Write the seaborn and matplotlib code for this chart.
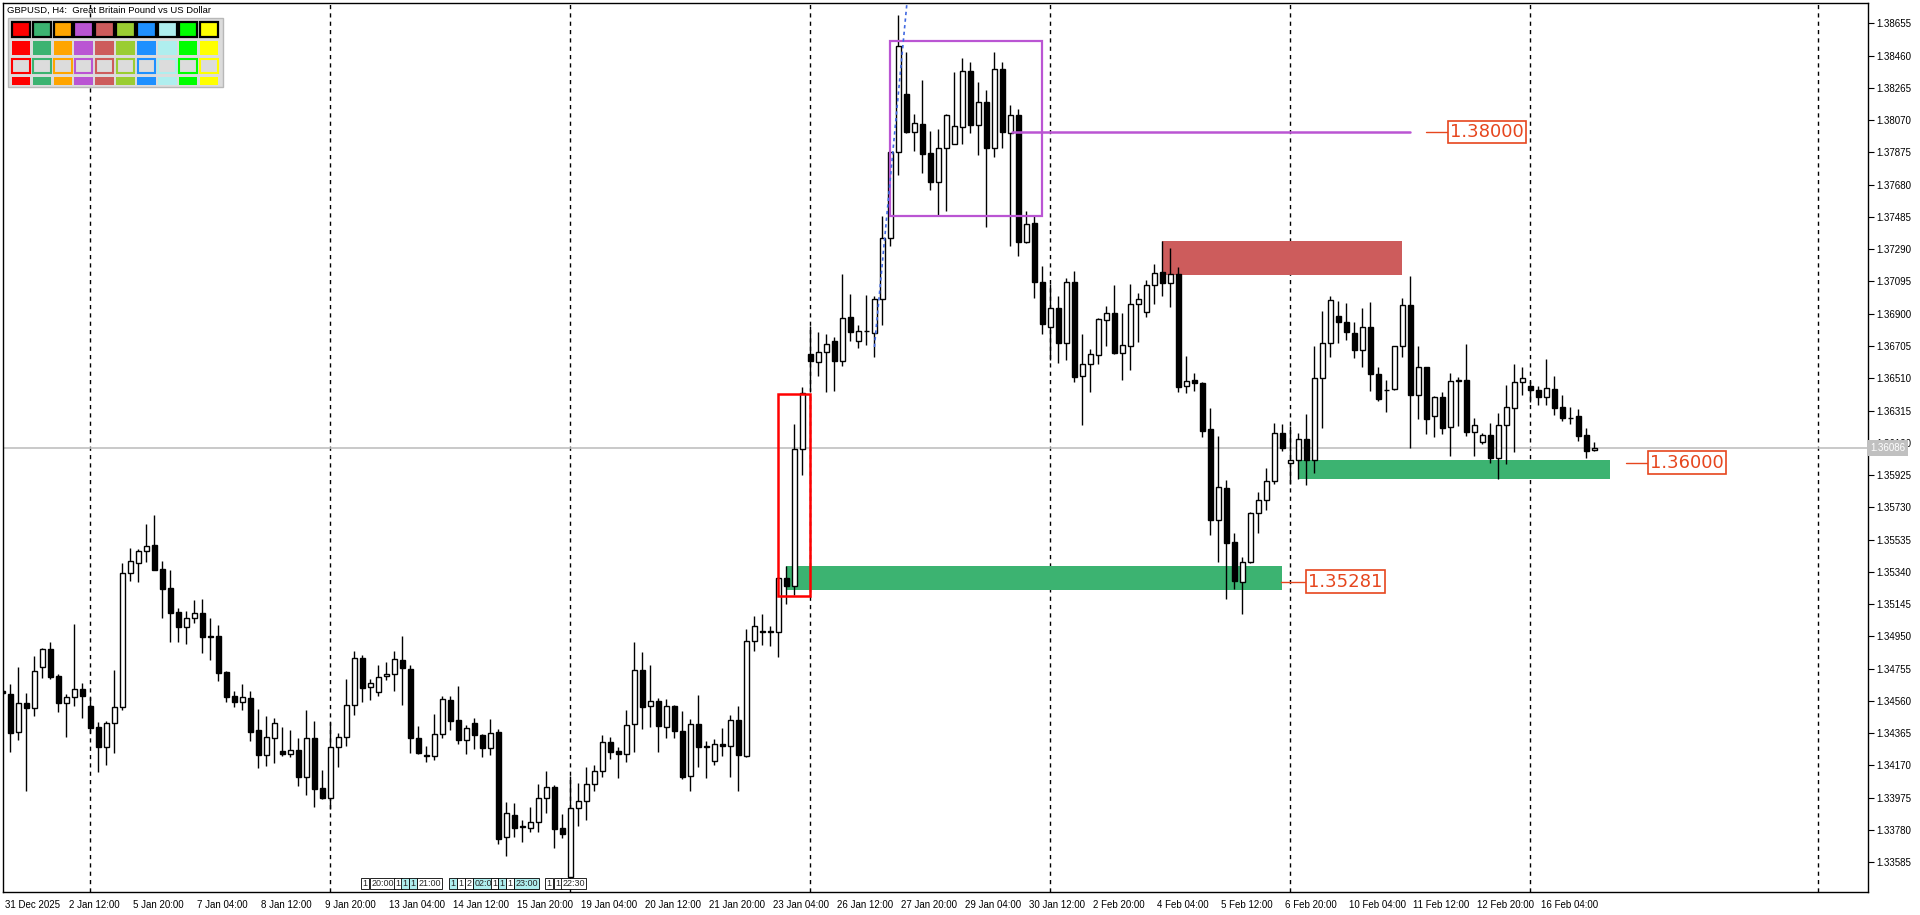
import numpy as np
import pandas as pd
import seaborn as sns
import matplotlib.pyplot as plt
import matplotlib.transforms as mtransforms
from matplotlib.patches import Rectangle

sns.set_style("white")
plt.rcParams['font.family'] = ['Liberation Sans', 'DejaVu Sans']

# GBPUSD H4 candles (bar 0 = 31 Dec 2025 00:00)
opens = [1.34618, 1.34600, 1.34375, 1.34546, 1.34520, 1.34763, 1.34874, 1.34711, 1.34550, 1.34582,
         1.34630, 1.34530, 1.34403, 1.34284, 1.34425, 1.34526, 1.35331, 1.35392, 1.35464, 1.35502,
         1.35357, 1.35243, 1.35096, 1.35005, 1.35059, 1.35090, 1.34950, 1.34953, 1.34735, 1.34590,
         1.34556, 1.34576, 1.34385, 1.34236, 1.34338, 1.34258, 1.34240, 1.34264, 1.34099, 1.34338,
         1.34032, 1.33972, 1.34280, 1.34340, 1.34534, 1.34818, 1.34642, 1.34612, 1.34709, 1.34721,
         1.34806, 1.34751, 1.34334, 1.34232, 1.34225, 1.34358, 1.34566, 1.34445, 1.34322, 1.34425,
         1.34354, 1.34274, 1.34370, 1.33736, 1.33869, 1.33802, 1.33794, 1.33827, 1.33972, 1.34038,
         1.33790, 1.33493, 1.33911, 1.33952, 1.34058, 1.34135, 1.34310, 1.34258, 1.34242, 1.34419,
         1.34745, 1.34532, 1.34561, 1.34404, 1.34529, 1.34378, 1.34109, 1.34421, 1.34283, 1.34198,
         1.34302, 1.34290, 1.34444, 1.34228, 1.34925, 1.34978, 1.34979, 1.34978, 1.35302, 1.35256,
         1.36081, 1.36657, 1.36608, 1.36667, 1.36733, 1.36612, 1.36883, 1.36733, 1.36797, 1.36782,
         1.36988, 1.37355, 1.37876, 1.38229, 1.38000, 1.38049, 1.37872, 1.37699, 1.37902, 1.37928,
         1.38026, 1.38370, 1.38040, 1.38180, 1.37900, 1.38380, 1.37990, 1.38100, 1.37335, 1.37446,
         1.37089, 1.36817, 1.36932, 1.36725, 1.37089, 1.36521, 1.36594, 1.36648, 1.36860, 1.36902,
         1.36664, 1.36703, 1.36957, 1.36908, 1.37071, 1.37150, 1.37083, 1.37138, 1.36463, 1.36497,
         1.36481, 1.36201, 1.35651, 1.35845, 1.35518, 1.35277, 1.35398, 1.35694, 1.35772, 1.35887,
         1.36177, 1.35997, 1.36015, 1.36142, 1.36015, 1.36510, 1.36722, 1.36885, 1.36848, 1.36782,
         1.36679, 1.36818, 1.36534, 1.36442, 1.36443, 1.36703, 1.36953, 1.36411, 1.36577, 1.36280,
         1.36397, 1.36214, 1.36496, 1.36498, 1.36188, 1.36123, 1.36168, 1.36031, 1.36228, 1.36329,
         1.36486, 1.36464, 1.36440, 1.36395, 1.36446, 1.36337, 1.36272, 1.36282, 1.36168, 1.36075]
highs = [1.34626, 1.34663, 1.34765, 1.34606, 1.34832, 1.34878, 1.34916, 1.34723, 1.34600, 1.35025,
         1.34669, 1.34584, 1.34433, 1.34439, 1.34747, 1.35392, 1.35482, 1.35476, 1.35629, 1.35684,
         1.35406, 1.35351, 1.35120, 1.35104, 1.35170, 1.35176, 1.35059, 1.35019, 1.34741, 1.34620,
         1.34663, 1.34620, 1.34514, 1.34469, 1.34455, 1.34401, 1.34385, 1.34334, 1.34506, 1.34439,
         1.34143, 1.34431, 1.34368, 1.34691, 1.34862, 1.34840, 1.34693, 1.34777, 1.34795, 1.34862,
         1.34955, 1.34777, 1.34409, 1.34288, 1.34481, 1.34590, 1.34592, 1.34650, 1.34413, 1.34459,
         1.34358, 1.34451, 1.34391, 1.33950, 1.33944, 1.33839, 1.33919, 1.34060, 1.34137, 1.34052,
         1.33877, 1.34109, 1.34066, 1.34161, 1.34175, 1.34354, 1.34342, 1.34282, 1.34505, 1.34916,
         1.34854, 1.34778, 1.34575, 1.34571, 1.34538, 1.34496, 1.34453, 1.34597, 1.34319, 1.34332,
         1.34398, 1.34473, 1.34532, 1.34997, 1.35072, 1.35085, 1.35013, 1.35308, 1.35377, 1.36235,
         1.36458, 1.36828, 1.36792, 1.36775, 1.36762, 1.37139, 1.37018, 1.36831, 1.37011, 1.37005,
         1.37493, 1.37879, 1.38704, 1.38482, 1.38108, 1.38311, 1.38003, 1.38017, 1.38105, 1.38360,
         1.38446, 1.38420, 1.38300, 1.38250, 1.38480, 1.38420, 1.38160, 1.38140, 1.37520, 1.37490,
         1.37186, 1.37079, 1.37005, 1.37114, 1.37156, 1.36777, 1.36687, 1.36872, 1.36946, 1.37071,
         1.36902, 1.37077, 1.37023, 1.37104, 1.37200, 1.37339, 1.37297, 1.37180, 1.36644, 1.36540,
         1.36485, 1.36328, 1.36161, 1.35895, 1.35573, 1.35430, 1.35700, 1.35821, 1.35966, 1.36240,
         1.36233, 1.36222, 1.36180, 1.36295, 1.36705, 1.36917, 1.37008, 1.36977, 1.36965, 1.36850,
         1.36935, 1.36971, 1.36577, 1.36500, 1.36705, 1.36995, 1.37128, 1.36705, 1.36580, 1.36405,
         1.36425, 1.36542, 1.36516, 1.36718, 1.36270, 1.36178, 1.36240, 1.36301, 1.36470, 1.36595,
         1.36579, 1.36492, 1.36464, 1.36627, 1.36524, 1.36409, 1.36337, 1.36325, 1.36212, 1.36125]
lows = [1.34602, 1.34254, 1.34324, 1.34016, 1.34469, 1.34699, 1.34693, 1.34493, 1.34344, 1.34530,
        1.34457, 1.34368, 1.34133, 1.34173, 1.34248, 1.34506, 1.35287, 1.35281, 1.35397, 1.35353,
        1.35063, 1.34918, 1.34918, 1.34902, 1.35029, 1.34848, 1.34808, 1.34683, 1.34556, 1.34526,
        1.34502, 1.34320, 1.34157, 1.34169, 1.34185, 1.34224, 1.34220, 1.34048, 1.33990, 1.33921,
        1.33970, 1.33905, 1.34163, 1.34290, 1.34477, 1.34552, 1.34566, 1.34592, 1.34687, 1.34622,
        1.34538, 1.34248, 1.34238, 1.34193, 1.34205, 1.34338, 1.34385, 1.34300, 1.34242, 1.34272,
        1.34223, 1.34230, 1.33694, 1.33625, 1.33740, 1.33710, 1.33766, 1.33766, 1.33885, 1.33670,
        1.33734, 1.33485, 1.33805, 1.33841, 1.34018, 1.34100, 1.34211, 1.34097, 1.34191, 1.34254,
        1.34393, 1.34401, 1.34250, 1.34335, 1.34335, 1.34090, 1.34014, 1.34159, 1.34096, 1.34172,
        1.34227, 1.34103, 1.34014, 1.34221, 1.34859, 1.34899, 1.34889, 1.34827, 1.35144, 1.35203,
        1.35924, 1.36431, 1.36523, 1.36425, 1.36431, 1.36582, 1.36733, 1.36693, 1.36713, 1.36638,
        1.36831, 1.37312, 1.37741, 1.37990, 1.37886, 1.37748, 1.37650, 1.37496, 1.37519, 1.37925,
        1.37928, 1.37990, 1.37860, 1.37422, 1.37850, 1.37900, 1.37311, 1.37251, 1.37325, 1.36997,
        1.36779, 1.36620, 1.36604, 1.36618, 1.36489, 1.36229, 1.36429, 1.36598, 1.36707, 1.36658,
        1.36499, 1.36562, 1.36731, 1.36882, 1.36961, 1.37007, 1.36942, 1.36429, 1.36423, 1.36435,
        1.36157, 1.35565, 1.35402, 1.35174, 1.35235, 1.35083, 1.35395, 1.35577, 1.35716, 1.35873,
        1.36072, 1.35870, 1.35902, 1.35862, 1.35936, 1.36212, 1.36641, 1.36722, 1.36740, 1.36635,
        1.36577, 1.36430, 1.36371, 1.36309, 1.36440, 1.36641, 1.36091, 1.36262, 1.36176, 1.36154,
        1.36172, 1.36043, 1.36224, 1.36158, 1.36043, 1.36113, 1.35997, 1.35902, 1.35990, 1.36067,
        1.36411, 1.36367, 1.36349, 1.36349, 1.36285, 1.36254, 1.36236, 1.36131, 1.36031, 1.36073]
closes = [1.34606, 1.34368, 1.34546, 1.34520, 1.34741, 1.34872, 1.34707, 1.34550, 1.34582, 1.34630,
          1.34592, 1.34399, 1.34284, 1.34425, 1.34526, 1.35331, 1.35404, 1.35464, 1.35494, 1.35353,
          1.35239, 1.35094, 1.35009, 1.35059, 1.35090, 1.34949, 1.34946, 1.34731, 1.34586, 1.34556,
          1.34582, 1.34375, 1.34236, 1.34344, 1.34425, 1.34240, 1.34264, 1.34099, 1.34338, 1.34026,
          1.33972, 1.34280, 1.34340, 1.34534, 1.34818, 1.34640, 1.34667, 1.34703, 1.34721, 1.34812,
          1.34757, 1.34334, 1.34248, 1.34229, 1.34358, 1.34570, 1.34441, 1.34322, 1.34397, 1.34352,
          1.34274, 1.34364, 1.33728, 1.33881, 1.33794, 1.33799, 1.33827, 1.33972, 1.34038, 1.33788,
          1.33754, 1.33911, 1.33954, 1.34058, 1.34135, 1.34310, 1.34254, 1.34242, 1.34413, 1.34745,
          1.34526, 1.34558, 1.34407, 1.34532, 1.34381, 1.34100, 1.34421, 1.34283, 1.34287, 1.34299,
          1.34286, 1.34444, 1.34234, 1.34922, 1.35013, 1.34981, 1.34982, 1.35302, 1.35256, 1.36081,
          1.36422, 1.36615, 1.36667, 1.36720, 1.36612, 1.36877, 1.36792, 1.36798, 1.36793, 1.36988,
          1.37355, 1.37876, 1.38521, 1.38000, 1.38053, 1.37863, 1.37699, 1.37902, 1.38102, 1.38033,
          1.38370, 1.38040, 1.38180, 1.37900, 1.38380, 1.38000, 1.38100, 1.37335, 1.37440, 1.37093,
          1.36840, 1.36932, 1.36725, 1.37089, 1.36515, 1.36594, 1.36654, 1.36866, 1.36902, 1.36664,
          1.36709, 1.36957, 1.36987, 1.37071, 1.37144, 1.37083, 1.37138, 1.36459, 1.36491, 1.36479,
          1.36193, 1.35655, 1.35851, 1.35512, 1.35287, 1.35398, 1.35694, 1.35772, 1.35887, 1.36177,
          1.36090, 1.36015, 1.36142, 1.36015, 1.36510, 1.36722, 1.36981, 1.36848, 1.36788, 1.36679,
          1.36818, 1.36534, 1.36387, 1.36439, 1.36703, 1.36953, 1.36411, 1.36577, 1.36266, 1.36397,
          1.36212, 1.36492, 1.36499, 1.36188, 1.36228, 1.36168, 1.36031, 1.36228, 1.36337, 1.36486,
          1.36512, 1.36437, 1.36395, 1.36452, 1.36333, 1.36268, 1.36268, 1.36164, 1.36073, 1.36087]

x_tick_labels = ['31 Dec 2025', '2 Jan 12:00', '5 Jan 20:00', '7 Jan 04:00', '8 Jan 12:00',
                 '9 Jan 20:00', '13 Jan 04:00', '14 Jan 12:00', '15 Jan 20:00', '19 Jan 04:00',
                 '20 Jan 12:00', '21 Jan 20:00', '23 Jan 04:00', '26 Jan 12:00', '27 Jan 20:00',
                 '29 Jan 04:00', '30 Jan 12:00', '2 Feb 20:00', '4 Feb 04:00', '5 Feb 12:00',
                 '6 Feb 20:00', '10 Feb 04:00', '11 Feb 12:00', '12 Feb 20:00', '16 Feb 04:00']
x_tick_bars = [0, 8, 16, 24, 32, 40, 48, 56, 64, 72, 80, 88, 96, 104, 112, 120, 128, 136,
               144, 152, 160, 168, 176, 184, 192]
week_start_bars = [11, 41, 71, 101, 131, 161, 191, 227]

y_tick_vals = [1.33585, 1.33780, 1.33975, 1.34170, 1.34365, 1.34560, 1.34755, 1.34950, 1.35145,
               1.35340, 1.35535, 1.35730, 1.35925, 1.36120, 1.36315, 1.36510, 1.36705, 1.36900,
               1.37095, 1.37290, 1.37485, 1.37680, 1.37875, 1.38070, 1.38265, 1.38460, 1.38655]
bid_price = 1.36086

# drawn objects (bar positions, prices)
green_zones = [(98.0, 160.0, 1.35233, 1.35375), (162.0, 200.9, 1.35902, 1.36016)]
red_zone = (145.0, 175.0, 1.37136, 1.37339)
red_box = (96.92, 100.96, 1.35194, 1.36415)
purple_box = (110.9, 130.0, 1.37489, 1.38550)
purple_line = (126.2, 176.0, 1.38000)
trend_x = [109.0, 113.05]
trend_y = [1.36699, 1.38770]
price_labels = [(1.38000, 178.0, 180.7), (1.35281, 159.8, 162.96), (1.36000, 202.96, 205.7)]

event_bars = [45.0, 46.1, 49.1, 50.0, 51.0, 52.0, 56.0, 57.0, 58.0, 59.0, 61.2, 62.1, 63.1,
              64.1, 68.0, 69.1, 70.0]
event_text = ['1', '20:00', '1', '1', '1', '21:00', '1', '1', '2', '02:00', '1', '1', '1',
              '23:00', '1', '1', '22:30']
event_cyan = [0, 0, 0, 1, 1, 0, 1, 0, 0, 1, 0, 1, 0, 1, 0, 0, 0]

palette = ['#FF0000', '#3CB371', '#FFA500', '#BA55D3', '#CD5C5C', '#9ACD32', '#1E90FF',
           '#AFEEEE', '#00FF00', '#FFFF00']

df = pd.DataFrame({'open': opens, 'high': highs, 'low': lows, 'close': closes})
df['bar'] = np.arange(len(df))
df['bull'] = df['close'] >= df['open']

W, H = 1920, 915
fig = plt.figure(figsize=(W / 100, H / 100), dpi=100)
ax = fig.add_axes([2.5 / W, 1 - 892 / H, 1865 / W, 889.5 / H])

ax.set_xlim(0.02, 233.15)
ax.set_ylim(1.33405, 1.38781)

# week separators
for b in week_start_bars:
    ax.axvline(b, color='black', lw=1, ls=(0, (3, 3)), zorder=1)

ax.axhline(bid_price, color='#C0C0C0', lw=1.2, zorder=1.5)

# zones behind candles
for x0, x1, y0, y1 in green_zones:
    ax.add_patch(Rectangle((x0, y0), x1 - x0, y1 - y0, fc='#3CB371', ec='none', zorder=1.8))
ax.add_patch(Rectangle((red_zone[0], red_zone[2]), red_zone[1] - red_zone[0],
                       red_zone[3] - red_zone[2], fc='#CD5C5C', ec='none', zorder=1.8))

# candles
ax.vlines(df['bar'], df['low'], df['high'], color='black', lw=1, zorder=2)
body_low = np.minimum(df['open'], df['close'])
body_h = np.maximum((df['close'] - df['open']).abs(), 0.00003)
ax.bar(df['bar'], body_h, bottom=body_low, width=0.56,
       color=np.where(df['bull'], 'white', 'black'), edgecolor='black', linewidth=1, zorder=3)

# rectangles, lines
ax.add_patch(Rectangle((red_box[0], red_box[2]), red_box[1] - red_box[0], red_box[3] - red_box[2],
                       fill=False, ec='#FF0000', lw=1.8, zorder=4))
ax.add_patch(Rectangle((purple_box[0], purple_box[2]), purple_box[1] - purple_box[0],
                       purple_box[3] - purple_box[2], fill=False, ec='#BA55D3', lw=1.6, zorder=4))
ax.plot(purple_line[:2], [purple_line[2]] * 2, color='#BA55D3', lw=1.8, zorder=4)
ax.plot(trend_x, trend_y, color='#4169E1', lw=1.2, ls=(0, (2, 2)), zorder=4)

lab_col = '#E6461E'
for price, lx0, lx1 in price_labels:
    ax.plot([lx0, lx1], [price, price], color=lab_col, lw=1, zorder=5)
    ax.text(lx1 + 0.3, price, f'{price:.5f}', fontsize=13, color=lab_col, ha='left', va='center',
            family='DejaVu Sans', zorder=6,
            bbox=dict(boxstyle='square,pad=0.12', fc='white', ec=lab_col, lw=1.2))

# calendar event markers along the bottom
bt = mtransforms.blended_transform_factory(ax.transData, ax.transAxes)
for b, t, c in zip(event_bars, event_text, event_cyan):
    ax.text(b, 0.0095, t, transform=bt, fontsize=6.5, ha='left', va='center', zorder=6,
            bbox=dict(boxstyle='square,pad=0.15', fc='#AFEEEE' if c else 'white',
                      ec='black', lw=0.6))

# axes styling
for s in ax.spines.values():
    s.set_color('black')
    s.set_linewidth(1)
ax.set_xticks(x_tick_bars)
ax.set_xticklabels(x_tick_labels, ha='left')
ax.tick_params(axis='x', direction='out', length=4, pad=2, labelsize=7, colors='black')
offset = mtransforms.ScaledTranslation(2 / 72, 0, fig.dpi_scale_trans)
for lab in ax.get_xticklabels():
    lab.set_transform(lab.get_transform() + offset)
ax.yaxis.tick_right()
ax.set_yticks(y_tick_vals)
ax.set_yticklabels([f'{v:.5f}' for v in y_tick_vals])
ax.tick_params(axis='y', direction='out', length=4, pad=2, labelsize=7, colors='black')
ax.grid(False)

yt = mtransforms.blended_transform_factory(ax.transAxes, ax.transData)
ax.text(1.0015, bid_price, f'{bid_price:.5f}', transform=yt, fontsize=7, color='white',
        ha='left', va='center', zorder=10, clip_on=False,
        bbox=dict(boxstyle='square,pad=0.3', fc='#C0C0C0', ec='none'))

# symbol caption and colour palette panel (top-left)
def fpx(x, y):
    return x / W, 1 - y / H

fig.text(*fpx(7, 10), 'GBPUSD, H4:  Great Britain Pound vs US Dollar', fontsize=6.8,
         ha='left', va='center', color='black')
px0, py0 = fpx(8, 87)
fig.add_artist(Rectangle((px0, py0), 215 / W, 69 / H, transform=fig.transFigure,
                         fc='#DCDCDC', ec='#B8B8B8', lw=1, zorder=5))
for k, col in enumerate(palette):
    x = 11.7 + 20.9 * k
    # row 1: framed swatches
    fig.add_artist(Rectangle(fpx(x, 37), 18.5 / W, 15 / H, transform=fig.transFigure,
                             fc=col, ec='black', lw=1.6, zorder=6))
    # row 2: filled
    fig.add_artist(Rectangle(fpx(x, 55), 18.5 / W, 14 / H, transform=fig.transFigure,
                             fc=col, ec='none', zorder=6))
    # row 3: outlined
    fig.add_artist(Rectangle(fpx(x + 0.5, 72.5), 17.5 / W, 13.5 / H, transform=fig.transFigure,
                             fc='#DCDCDC', ec=col, lw=1.5, zorder=6))
    # row 4: thin filled
    fig.add_artist(Rectangle(fpx(x, 85), 18.5 / W, 8 / H, transform=fig.transFigure,
                             fc=col, ec='none', zorder=6))

fig.savefig('out.png', dpi=100)
